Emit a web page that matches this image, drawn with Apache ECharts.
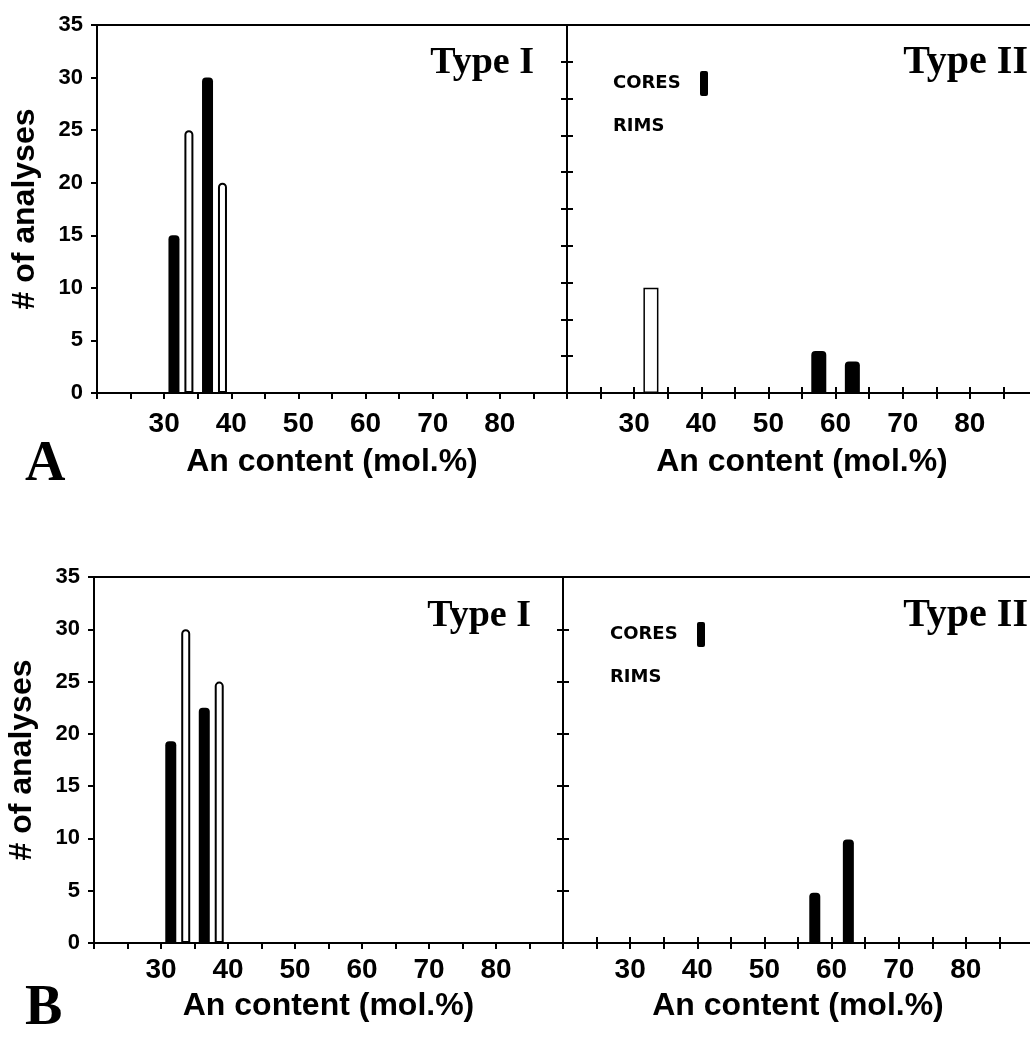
<!DOCTYPE html>
<html>
<head>
<meta charset="utf-8">
<script src="https://cdn.jsdelivr.net/npm/echarts@6/dist/echarts.min.js"></script>
<style>
html,body{margin:0;padding:0;background:#fff;}
#chart{width:1030px;height:1049px;}
</style>
</head>
<body>
<div id="chart"></div>
<script>
// ---- data (bin centres in An mol.%, counts = # of analyses) ----
const typeIBins = [32.5, 37.5];
const topTypeICores = [15, 30];
const topTypeIRims = [25, 20];
const topTypeIICoreBins = [57.5, 62.5];
const topTypeIICores = [4, 3];
const topTypeIIRimBins = [32.5];
const topTypeIIRims = [10];
const botTypeICores = [19.3, 22.5];
const botTypeIRims = [30, 25];
const botTypeIICoreBins = [57.5, 62.5];
const botTypeIICores = [4.8, 9.9];
const xTickLabels = ['30', '40', '50', '60', '70', '80'];
const yTickLabels = ['0', '5', '10', '15', '20', '25', '30', '35'];
const panelTitles = ['Type I', 'Type II'];
const panelLetters = ['A', 'B'];
const legendNames = ['CORES', 'RIMS'];
const xName = 'An content (mol.%)';
const yName = '# of analyses';

const pairs = (xs, ys) => xs.map((x, i) => [x, ys[i]]);

const BLACK = '#000';
const sans = 'Liberation Sans';
const serif = 'Liberation Serif';

function xAxis(gridIndex, opts) {
  const o = Object.assign({labels: true, inside: false, nameGap: 53, margin: 17}, opts || {});
  return {
    type: 'value', gridIndex, min: 20, max: 90, interval: 5,
    axisLine: {show: true, onZero: false, lineStyle: {color: BLACK, width: 2}},
    axisTick: {show: true, inside: o.inside, length: 6, lineStyle: {color: BLACK, width: 2}},
    splitLine: {show: false},
    axisLabel: {
      show: o.labels, margin: o.margin, color: BLACK, fontFamily: sans, fontWeight: 'bold', fontSize: 28,
      formatter: v => xTickLabels.indexOf(String(v)) >= 0 ? String(v) : ''
    },
    name: o.labels ? xName : '', nameLocation: 'middle', nameGap: o.nameGap,
    nameTextStyle: {color: BLACK, fontFamily: sans, fontWeight: 'bold', fontSize: 32}
  };
}
function yAxis(gridIndex, opts) {
  const o = Object.assign({labels: true, inside: false, interval: 5}, opts || {});
  return {
    type: 'value', gridIndex, min: 0, max: 35, interval: o.interval,
    axisLine: {show: true, onZero: false, lineStyle: {color: BLACK, width: 2}},
    axisTick: {show: true, inside: o.inside, length: 6, lineStyle: {color: BLACK, width: 2}},
    splitLine: {show: false},
    axisLabel: {
      show: o.labels, margin: 14, color: BLACK, fontFamily: sans, fontWeight: 'bold', fontSize: 22,
      formatter: v => yTickLabels.indexOf(String(v)) >= 0 ? String(v) : ''
    },
    name: o.labels ? yName : '', nameLocation: 'middle', nameGap: 56,
    nameTextStyle: {color: BLACK, fontFamily: sans, fontWeight: 'bold', fontSize: 32}
  };
}
function grid(left, top, width, height, show) {
  return {left, top, width, height, show, borderColor: BLACK, borderWidth: 2,
          backgroundColor: 'transparent', containLabel: false, outerBoundsMode: 'none'};
}
const coreStyle = {color: BLACK, borderRadius: [4, 4, 0, 0]};
const rimStyle = {color: '#fff', borderColor: BLACK, borderWidth: 2, borderRadius: [4, 4, 0, 0]};

function legend(left, top) {
  return {
    orient: 'vertical', left, top, align: 'right', icon: 'roundRect',
    itemWidth: 8, itemHeight: 25, itemGap: 18, selectedMode: false,
    data: [
      {name: legendNames[0]},
      {name: legendNames[1], itemStyle: {color: 'rgba(0,0,0,0)', borderWidth: 0}}
    ],
    formatter: name => '{w|' + name + '}',
    textStyle: {
      color: BLACK, fontFamily: 'DejaVu Sans', fontWeight: 'bold', fontSize: 18, padding: [0, 14, 0, 0],
      rich: {w: {width: 68, align: 'left', color: BLACK, fontFamily: 'DejaVu Sans', fontWeight: 'bold', fontSize: 18}}
    }
  };
}
function label(text, x, y, size, align) {
  return {type: 'text', x, y, silent: true,
          style: {text, font: 'bold ' + size + 'px "' + serif + '"', fill: BLACK, align: align, verticalAlign: 'middle'}};
}

const option = {
  animation: false,
  backgroundColor: '#fff',
  grid: [
    grid(97, 25, 470, 368, true),   // 0 top Type I
    grid(567, 25, 470, 368, true),  // 1 top Type II
    grid(94, 577, 469, 366, true),  // 2 bottom Type I
    grid(563, 577, 470, 366, true), // 3 bottom Type II
    grid(567, 25, 470, 368, false), // 4 inner ticks top Type II
    grid(563, 577, 470, 366, false) // 5 inner ticks bottom Type II
  ],
  xAxis: [
    xAxis(0),
    xAxis(1),
    xAxis(2, {nameGap: 47, margin: 13}),
    xAxis(3, {nameGap: 47, margin: 13}),
    xAxis(4, {labels: false, inside: true}),
    xAxis(5, {labels: false, inside: true})
  ],
  yAxis: [
    yAxis(0),
    yAxis(1, {labels: false, interval: 3.5}),
    yAxis(2),
    yAxis(3, {labels: false}),
    yAxis(4, {labels: false, inside: true, interval: 3.5}),
    yAxis(5, {labels: false, inside: true})
  ],
  legend: [legend(608, 66), legend(605, 617)],
  series: [
    {type: 'bar', name: legendNames[0], xAxisIndex: 0, yAxisIndex: 0, barWidth: 11,
     data: pairs(typeIBins, topTypeICores), itemStyle: coreStyle},
    {type: 'bar', name: legendNames[1], xAxisIndex: 0, yAxisIndex: 0, barWidth: 9, barGap: '45%',
     data: pairs(typeIBins, topTypeIRims), itemStyle: rimStyle},
    {type: 'bar', name: legendNames[0], xAxisIndex: 1, yAxisIndex: 1, barWidth: 15,
     data: pairs(topTypeIICoreBins, topTypeIICores), itemStyle: coreStyle},
    {type: 'bar', name: legendNames[1], xAxisIndex: 1, yAxisIndex: 1, barWidth: 15, barGap: '-100%',
     data: pairs(topTypeIIRimBins, topTypeIIRims), itemStyle: Object.assign({}, rimStyle, {borderWidth: 1.5, borderRadius: 0})},
    {type: 'bar', name: legendNames[0], xAxisIndex: 2, yAxisIndex: 2, barWidth: 11,
     data: pairs(typeIBins, botTypeICores), itemStyle: coreStyle},
    {type: 'bar', name: legendNames[1], xAxisIndex: 2, yAxisIndex: 2, barWidth: 9, barGap: '45%',
     data: pairs(typeIBins, botTypeIRims), itemStyle: rimStyle},
    {type: 'bar', name: legendNames[0], xAxisIndex: 3, yAxisIndex: 3, barWidth: 11,
     data: pairs(botTypeIICoreBins, botTypeIICores), itemStyle: coreStyle}
  ],
  graphic: [
    label(panelTitles[0], 534, 63, 38, 'right'),
    label(panelTitles[1], 1028, 63, 40, 'right'),
    label(panelTitles[0], 531, 616, 38, 'right'),
    label(panelTitles[1], 1028, 616, 40, 'right'),
    label(panelLetters[0], 25, 466, 56, 'left'),
    label(panelLetters[1], 25, 1010, 56, 'left')
  ]
};

const chart = echarts.init(document.getElementById('chart'), null, {renderer: 'canvas'});
chart.setOption(option);
</script>
</body>
</html>
